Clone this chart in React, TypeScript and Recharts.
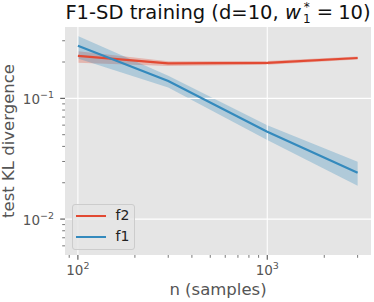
import React from 'react';
import { Area, ComposedChart, CartesianGrid, Line, ReferenceLine, XAxis, YAxis } from 'recharts';

const FONT = '"DejaVu Sans", sans-serif';
const RED = '#E24A33';
const BLUE = '#348ABD';

// sample sizes on the x axis
const N_SAMPLES = [100, 300, 1000, 3000];

// f2: mean and shaded band
const F2_MEAN = [0.225, 0.195, 0.197, 0.216];
const F2_LOW = [0.197, 0.185, 0.19, 0.21];
const F2_HIGH = [0.245, 0.203, 0.204, 0.222];

// f1: mean and shaded band
const F1_MEAN = [0.273, 0.139, 0.0528, 0.0242];
const F1_LOW = [0.214, 0.123, 0.0452, 0.0189];
const F1_HIGH = [0.328, 0.154, 0.06, 0.0298];

const X_MAJOR = [100, 1000];
const X_MINOR = [90, 200, 300, 400, 500, 600, 700, 800, 900, 2000, 3000];
const Y_MAJOR = [0.01, 0.1];
const Y_MINOR = [
  0.006, 0.007, 0.008, 0.009, 0.02, 0.03, 0.04, 0.05, 0.06, 0.07, 0.08, 0.09, 0.2, 0.3,
];

const SERIES = [
  { key: 'f2', name: 'f2', color: RED },
  { key: 'f1', name: 'f1', color: BLUE },
];

const data = N_SAMPLES.map((n, i) => ({
  n,
  f2: F2_MEAN[i],
  f2Band: [F2_LOW[i], F2_HIGH[i]],
  f1: F1_MEAN[i],
  f1Band: [F1_LOW[i], F1_HIGH[i]],
}));

function exponent(v: number): string {
  const e = Math.round(Math.log10(v));
  return e < 0 ? `\u2212${-e}` : String(e);
}

function XTick(props: any) {
  const { x, y, payload } = props;
  const major = X_MAJOR.includes(payload.value);
  return (
    <g>
      <line x1={x} x2={x} y1={y} y2={y + (major ? 4.8 : 2.8)} stroke="#555" strokeWidth={major ? 1.1 : 0.8} />
      {major && (
        <text x={x} y={y + 20} textAnchor="middle" fontSize={13.5} fill="#555" fontFamily={FONT}>
          10
          <tspan dy={-6} fontSize={9.5}>
            {exponent(payload.value)}
          </tspan>
        </text>
      )}
    </g>
  );
}

function YTick(props: any) {
  const { x, y, payload } = props;
  const major = Y_MAJOR.includes(payload.value);
  return (
    <g>
      <line x1={x - (major ? 4.8 : 2.8)} x2={x} y1={y} y2={y} stroke="#555" strokeWidth={major ? 1.1 : 0.8} />
      {major && (
        <text x={x - 11} y={y + 5.5} textAnchor="end" fontSize={13.5} fill="#555" fontFamily={FONT}>
          10
          <tspan dy={-6} fontSize={9.5}>
            {exponent(payload.value)}
          </tspan>
        </text>
      )}
    </g>
  );
}

export default function App() {
  return (
    <div style={{ position: 'absolute', left: 0, top: 0, width: 374, height: 302, fontFamily: FONT }}>
      <ComposedChart width={374} height={302} data={data} margin={{ top: 27, right: 3, left: 0, bottom: 0 }}>
        <CartesianGrid fill="#E5E5E5" horizontal={false} vertical={false} />
        <XAxis
          dataKey="n"
          type="number"
          scale="log"
          domain={[85.5, 3530]}
          allowDataOverflow
          ticks={[...X_MAJOR, ...X_MINOR]}
          interval={0}
          tickSize={0}
          tickMargin={0}
          tickLine={false}
          axisLine={false}
          tick={XTick}
          height={47}
        />
        <YAxis
          type="number"
          scale="log"
          domain={[0.00504, 0.39]}
          allowDataOverflow
          ticks={[...Y_MAJOR, ...Y_MINOR]}
          interval={0}
          tickSize={0}
          tickMargin={0}
          tickLine={false}
          axisLine={false}
          tick={YTick}
          width={65}
        />
        {X_MAJOR.map((v) => (
          <ReferenceLine key={`x${v}`} x={v} stroke="#fff" strokeWidth={1.1} />
        ))}
        {Y_MAJOR.map((v) => (
          <ReferenceLine key={`y${v}`} y={v} stroke="#fff" strokeWidth={1.1} />
        ))}
        <Area type="linear" dataKey="f2Band" stroke="none" fill={RED} fillOpacity={0.3} isAnimationActive={false} />
        <Line type="linear" dataKey="f2" stroke={RED} strokeWidth={2.2} dot={false} isAnimationActive={false} />
        <Area type="linear" dataKey="f1Band" stroke="none" fill={BLUE} fillOpacity={0.3} isAnimationActive={false} />
        <Line type="linear" dataKey="f1" stroke={BLUE} strokeWidth={2.2} dot={false} isAnimationActive={false} />
      </ComposedChart>

      {/* title */}
      <div
        style={{
          position: 'absolute',
          left: 65,
          width: 306,
          top: 0.5,
          textAlign: 'center',
          fontSize: 19.5,
          lineHeight: '22px',
          color: '#111',
          whiteSpace: 'nowrap',
        }}
      >
        {'F1-SD training (d=10, '}
        <span style={{ fontStyle: 'italic' }}>w</span>
        <span
          style={{
            display: 'inline-block',
            width: 10,
            paddingLeft: 1,
            fontSize: 12,
            lineHeight: '12px',
            verticalAlign: -4.5,
          }}
        >
          *<br />1
        </span>
        <span style={{ margin: '0 5px' }}>=</span>
        {'10)'}
      </div>

      {/* axis labels */}
      <div
        style={{
          position: 'absolute',
          left: 8,
          top: 141,
          transform: 'translate(-50%, -50%) rotate(-90deg)',
          whiteSpace: 'nowrap',
          fontSize: 16.5,
          color: '#555',
        }}
      >
        test KL divergence
      </div>
      <div
        style={{
          position: 'absolute',
          left: 65,
          width: 306,
          top: 280,
          textAlign: 'center',
          fontSize: 16.5,
          lineHeight: '19px',
          color: '#555',
          whiteSpace: 'nowrap',
        }}
      >
        n (samples)
      </div>

      {/* legend */}
      <div
        style={{
          position: 'absolute',
          left: 71.5,
          top: 204,
          width: 61,
          height: 44,
          border: '1px solid #ccc',
          borderRadius: 3,
          background: 'rgba(229,229,229,0.8)',
        }}
      >
        {SERIES.map((s, i) => (
          <div key={s.key} style={{ position: 'absolute', left: 3, top: 4 + i * 20.5, height: 14, width: 56 }}>
            <div style={{ position: 'absolute', left: 0, top: 6, width: 30, height: 2.2, background: s.color }} />
            <div style={{ position: 'absolute', left: 40, top: -2, fontSize: 14, lineHeight: '16px', color: '#222' }}>
              {s.name}
            </div>
          </div>
        ))}
      </div>
    </div>
  );
}
